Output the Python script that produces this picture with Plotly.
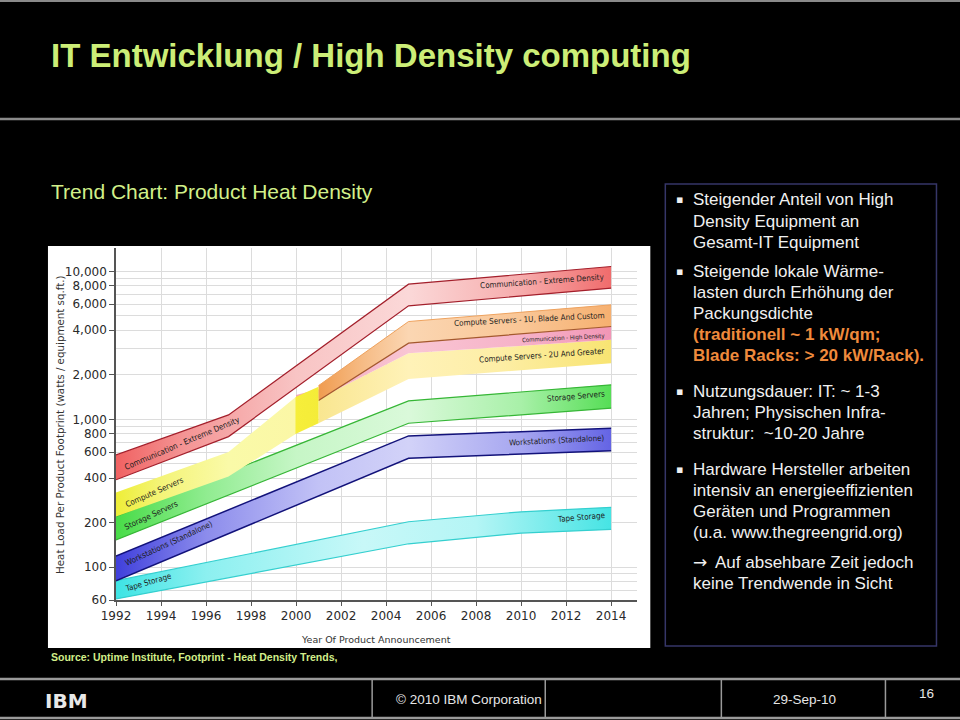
import plotly.graph_objects as go

# ---------------- data ----------------
tick_years = [1992, 1994, 1996, 1998, 2000, 2002, 2004, 2006, 2008, 2010, 2012, 2014]
y_tick_values = [60, 100, 200, 400, 600, 800, 1000, 2000, 4000, 6000, 8000, 10000]
y_tick_labels = ["60", "100", "200", "400", "600", "800", "1,000", "2,000",
                 "4,000", "6,000", "8,000", "10,000"]
y_minor_values = [70, 80, 90, 300, 500, 700, 900, 3000, 5000, 7000, 9000]

tape_years = [1992, 2005, 2010, 2014]
tape_upper = [81, 203, 237, 254]
tape_lower = [61, 144, 170, 180]

ws_years = [1992, 2005, 2014]
ws_upper = [119, 772, 871]
ws_lower = [81, 545, 614]

storage_years = [1992, 2005, 2014]
storage_upper = [220, 1333, 1710]
storage_lower = [153, 941, 1189]

cs2u_years = [2001, 2005, 2014]
cs2u_upper = [1380, 2800, 3445]
cs2u_lower = [941, 1870, 2397]

commhd_years = [2000, 2001, 2005, 2014]
commhd_upper = [1460, 1600, 3274, 4243]
commhd_lower = [1330, 1380, 2800, 3445]

cs1u_years = [2001, 2005, 2014]
cs1u_upper = [1690, 4584, 5945]
cs1u_lower = [1340, 3274, 4243]

cs_years = [1992, 1997, 2000, 2001]
cs_upper = [320, 600, 1420, 1663]
cs_lower = [220, 410, 800, 941]

commxd_years = [1992, 1997, 2005, 2014]
commxd_upper = [574, 1071, 8200, 10800]
commxd_lower = [390, 764, 5850, 7700]

bullet_1 = ["Steigender Anteil von High", "Density Equipment an", "Gesamt-IT Equipment"]
bullet_2 = ["Steigende lokale Wärme-", "lasten durch Erhöhung der", "Packungsdichte"]
bullet_2_hl = ["(traditionell ~ 1 kW/qm;", "Blade Racks: > 20 kW/Rack)."]
bullet_3 = ["Nutzungsdauer: IT: ~ 1-3", "Jahren; Physischen Infra-", "struktur:\u00a0 ~10-20 Jahre"]
bullet_4 = ["Hardware Hersteller arbeiten", "intensiv an energieeffizienten",
            "Geräten und Programmen", "(u.a. www.thegreengrid.org)"]
arrow_par = ["Auf absehbare Zeit jedoch", "keine Trendwende in Sicht"]

# ---------------- layout geometry (px) ----------------
W, H = 960, 720
PL, PR, PT, PB = 116, 636.7, 248, 600


def px(x):
    return (x - PL) / (PR - PL)


def py(y):
    return (PB - y) / (PB - PT)


fig = go.Figure()

# ---------------- bands ----------------
bands = [
    dict(years=tape_years, upper=tape_upper, lower=tape_lower,
         grad=[(1992, "#3ee4e4"), (1996, "#8cf0f0"), (2003, "#c8f8f8"), (2008, "#b4f5f5"), (2014, "#46e4e4")],
         lu=("#34cfcf", 1.2), ll=("#34cfcf", 1.2)),
    dict(years=ws_years, upper=ws_upper, lower=ws_lower,
         grad=[(1992, "#4040dc"), (1996, "#8c8cec"), (2001, "#c2c2f6"), (2005, "#d2d2f8"), (2010, "#a6a6f0"), (2014, "#6464e4")],
         lu=("#12127a", 1.5), ll=("#12127a", 1.5)),
    dict(years=storage_years, upper=storage_upper, lower=storage_lower,
         grad=[(1992, "#48dc48"), (1996, "#90ec90"), (2000, "#c6f6c6"), (2005, "#daf9da"), (2010, "#a8f0a8"), (2014, "#56de56")],
         lu=("#36b636", 1.2), ll=("#36b636", 1.2)),
    dict(years=cs2u_years, upper=cs2u_upper, lower=cs2u_lower,
         grad=[(2001, "#f9e690"), (2005, "#fff2b8"), (2009, "#fdeea6"), (2014, "#f8e472")],
         lu=None, ll=None),
    dict(years=commhd_years, upper=commhd_upper, lower=commhd_lower,
         grad=[(2000, "#f2a4b8"), (2005, "#f9c6d4"), (2010, "#f6b2c8"), (2014, "#f296b6")],
         lu=None, ll=None),
    dict(years=cs1u_years, upper=cs1u_upper, lower=cs1u_lower,
         grad=[(2001, "#f09c50"), (2003, "#f6bc86"), (2005, "#fbd6b2"), (2010, "#f9c696"), (2014, "#f6b070")],
         lu=("#eea25e", 1.0), ll=("#a4582e", 1.2)),
    dict(years=cs_years, upper=cs_upper, lower=cs_lower,
         grad=[(1992, "#eeee38"), (1994, "#f4f478"), (1997, "#fafaa8"), (1999.95, "#fbf7a6"),
               (2000.0, "#f6ee3a"), (2001, "#f4ec38")],
         lu=None, ll=None),
    dict(years=commxd_years, upper=commxd_upper, lower=commxd_lower,
         grad=[(1992, "#f06262"), (1995, "#f49494"), (2000, "#f8c4c4"), (2005, "#fbd8d8"), (2010, "#f6acac"), (2014, "#f06c6c")],
         lu=("#a31f2b", 1.2), ll=("#a31f2b", 1.2)),
]

for b in bands:
    yrs = b["years"]
    y0, y1 = yrs[0], yrs[-1]
    cs = [[(yr - y0) / (y1 - y0), c] for yr, c in b["grad"]]
    fig.add_trace(go.Scatter(
        x=list(yrs) + list(yrs[::-1]),
        y=list(b["upper"]) + list(b["lower"][::-1]),
        mode="none", fill="toself",
        fillgradient=dict(type="horizontal", colorscale=cs),
        hoverinfo="skip", showlegend=False))
    for key, vals in (("lu", b["upper"]), ("ll", b["lower"])):
        if b[key]:
            fig.add_trace(go.Scatter(x=yrs, y=vals, mode="lines",
                                     line=dict(color=b[key][0], width=b[key][1]),
                                     hoverinfo="skip", showlegend=False))

# ---------------- annotations ----------------
ann = []
CF = "Liberation Sans, Arial, sans-serif"
LF = "DejaVu Sans Condensed, Liberation Sans, Arial, sans-serif"


def label(text, x, y, angle=0, size=8, xanchor="center", color="#1e1e1e", family=LF, bold=False):
    f = dict(family=family, size=size, color=color)
    if bold:
        f["weight"] = "bold"
    ann.append(dict(text=text, x=px(x), y=py(y), xref="paper", yref="paper",
                    showarrow=False, textangle=angle, xanchor=xanchor, yanchor="middle",
                    font=f))


# band labels (left)
label("Communication - Extreme Density", 182, 443, -23)
label("Compute Servers", 154, 492, -24)
label("Storage Servers", 151, 515, -25)
label("Workstations (Standalone)", 169, 543, -25)
label("Tape Storage", 148, 582, -16)
# band labels (right)
label("Communication - Extreme Density", 607, 281, -4, xanchor="right")
label("Compute Servers - 1U, Blade And Custom", 607, 319, -3, xanchor="right")
label("Communication - High Density", 607, 338, -3, size=6, xanchor="right")
label("Compute Servers - 2U And Greater", 607, 355, -4, xanchor="right")
label("Storage Servers", 607, 396, -5, xanchor="right")
label("Workstations (Standalone)", 607, 440, -3, xanchor="right")
label("Tape Storage", 607, 517, -5, xanchor="right")

# axis titles
label("Year Of Product Announcement", 376, 639, 0, size=9.5, family="DejaVu Sans, sans-serif", color="#333333")
label("Heat Load Per Product Footprint (watts / equipment sq.ft.)", 60, 424, -90, size=10.3,
      family="DejaVu Sans, sans-serif", color="#333333")

# slide texts
label("IT Entwicklung / High Density computing", 49, 55, 0, size=33, xanchor="left",
      color="#ccee77", family=CF, bold=True)
label("Trend Chart: Product Heat Density", 49, 191, 0, size=21, xanchor="left",
      color="#d2f08a", family=CF)
label("Source: Uptime Institute, Footprint - Heat Density Trends,", 49, 657, 0, size=10.5,
      xanchor="left", color="#d2ee8a", family=CF, bold=True)

# text box
TX, LH = 691, 21.0
for block, first_y in ((bullet_1, 200), (bullet_2 + bullet_2_hl, 271), (bullet_3, 391), (bullet_4, 469)):
    label("\u25aa", 679, first_y, 0, size=11, color="#f0f0f0", family="DejaVu Sans, sans-serif")
    for i, line in enumerate(block):
        hl = line in bullet_2_hl
        label(line, TX, first_y + i * LH, 0, size=17, xanchor="left",
              color="#ef8a3c" if hl else "#f0f0f0", family=CF, bold=hl)
label("\u2192", TX, 562, 0, size=17, xanchor="left", color="#f0f0f0", family="DejaVu Sans, sans-serif")
label(arrow_par[0], TX + 22, 562, 0, size=17, xanchor="left", color="#f0f0f0", family=CF)
label(arrow_par[1], TX, 583, 0, size=17, xanchor="left", color="#f0f0f0", family=CF)

# footer
label("IBM", 67, 701, 0, size=20, color="#e8e8e8", family="DejaVu Sans, sans-serif", bold=True)
label("\u00a9 2010 IBM Corporation", 469, 699, 0, size=13.5, color="#e6e6e6", family=CF)
label("29-Sep-10", 804, 699, 0, size=13.5, color="#e6e6e6", family=CF)
label("16", 926, 693, 0, size=13.5, color="#e6e6e6", family=CF)

# ---------------- shapes ----------------
shapes = []


def rect(x0, y0, x1, y1, fill=None, line=None, lw=0, layer="below"):
    shapes.append(dict(type="rect", xref="paper", yref="paper",
                       x0=px(x0), x1=px(x1), y0=py(y1), y1=py(y0),
                       fillcolor=fill or "rgba(0,0,0,0)",
                       line=dict(color=line or "rgba(0,0,0,0)", width=lw), layer=layer))


def hline(x0, x1, y, color, w):
    shapes.append(dict(type="line", xref="paper", yref="paper", x0=px(x0), x1=px(x1),
                       y0=py(y), y1=py(y), line=dict(color=color, width=w), layer="above"))


def vline(x, y0, y1, color, w):
    shapes.append(dict(type="line", xref="paper", yref="paper", x0=px(x), x1=px(x),
                       y0=py(y0), y1=py(y1), line=dict(color=color, width=w), layer="above"))


rect(48, 246, 650, 648, fill="#ffffff")
rect(665, 184, 936, 646, line="#363668", lw=1.5, layer="above")
hline(0, 960, 1, "#8a8a8a", 2)
hline(0, 960, 119, "#8a8a8a", 2.5)
hline(0, 960, 679, "#9a9a9a", 2.5)
hline(0, 960, 718, "#9a9a9a", 2.5)
for xv in (372, 545, 721, 885):
    vline(xv, 679, 718, "#9a9a9a", 1.5)

# ---------------- layout ----------------
fig.update_layout(
    width=W, height=H,
    margin=dict(l=PL, r=W - PR, t=PT, b=H - PB, pad=0),
    paper_bgcolor="#000000", plot_bgcolor="#ffffff",
    showlegend=False,
    annotations=ann, shapes=shapes,
    xaxis=dict(range=[1992, 2015.15], tickmode="array", tickvals=tick_years,
               showgrid=True, gridcolor="#dcdcdc", gridwidth=1,
               showline=True, linecolor="#555555", linewidth=1.5,
               ticks="outside", ticklen=4, tickcolor="#555555",
               tickfont=dict(family="DejaVu Sans, sans-serif", size=12, color="#2a2a2a"),
               zeroline=False, automargin=False, fixedrange=True),
    yaxis=dict(type="log", range=[1.7782, 4.1584], tickmode="array",
               tickvals=y_tick_values, ticktext=y_tick_labels,
               showgrid=True, gridcolor="#dcdcdc", gridwidth=1,
               minor=dict(tickmode="array", tickvals=y_minor_values, showgrid=True,
                          gridcolor="#dcdcdc", gridwidth=1, ticks=""),
               showline=True, linecolor="#555555", linewidth=1.5,
               ticks="outside", ticklen=5, tickcolor="#555555",
               tickfont=dict(family="DejaVu Sans, sans-serif", size=12, color="#2a2a2a"),
               zeroline=False, automargin=False, fixedrange=True),
)

fig.write_html("out.html", config={"displayModeBar": False},
               post_script="document.body.style.margin='0';document.body.style.background='#000';")
